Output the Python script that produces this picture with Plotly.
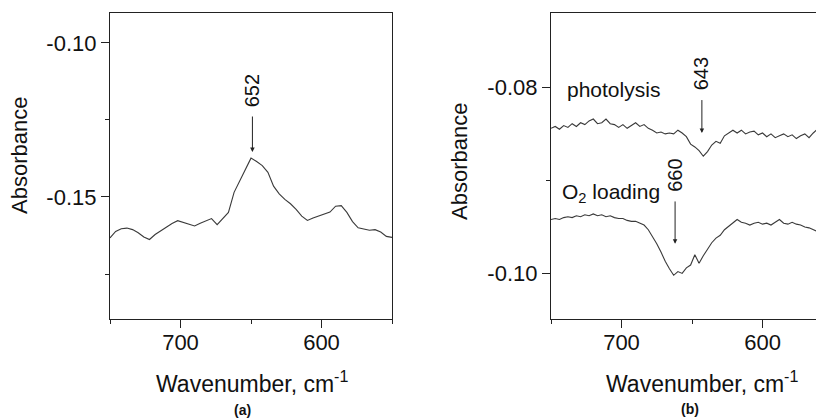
import plotly.graph_objects as go

# ---------------- data ----------------
wn_a = [750, 746, 742, 738, 734, 730, 726, 722, 718, 714, 710, 706, 702, 698, 694, 690, 686, 682, 678, 674,
        670, 666, 662, 658, 654, 650, 646, 642, 638, 634, 630, 626, 622, 618, 614, 610, 606, 602, 598, 594,
        590, 586, 582, 578, 574, 570, 566, 562, 558, 554, 550]
abs_a = [-0.1633, -0.1612, -0.1603, -0.1601, -0.1606, -0.1616, -0.1630, -0.1638, -0.1622, -0.1610,
         -0.1596, -0.1586, -0.1577, -0.1583, -0.1588, -0.1594, -0.1585, -0.1577, -0.1570, -0.1590,
         -0.1570, -0.1550, -0.1485, -0.1448, -0.1410, -0.1374, -0.1385, -0.1398, -0.1420, -0.1465,
         -0.1490, -0.1508, -0.1522, -0.1540, -0.1562, -0.1576, -0.1568, -0.1562, -0.1557, -0.1549,
         -0.1530, -0.1528, -0.1550, -0.1580, -0.1600, -0.1604, -0.1608, -0.1606, -0.1614, -0.1628, -0.1631]

wn_b = [750, 747, 744, 741, 738, 735, 732, 729, 726, 723, 720, 717, 714, 711, 708, 705, 702, 699, 696, 693,
        690, 687, 684, 681, 678, 675, 672, 669, 666, 663, 660, 657, 654, 651, 648, 645, 642, 639, 636, 633,
        630, 627, 624, 621, 618, 615, 612, 609, 606, 603, 600, 597, 594, 591, 588, 585, 582, 579, 576, 573,
        570, 567, 564, 561, 558, 555, 552]
abs_photolysis = [-0.0844, -0.0842, -0.0845, -0.0841, -0.0843, -0.0839, -0.0842, -0.0838, -0.0840, -0.0836,
                  -0.0834, -0.0839, -0.0838, -0.0834, -0.0839, -0.0840, -0.0843, -0.0840, -0.0844, -0.0841,
                  -0.0838, -0.0842, -0.0840, -0.0844, -0.0846, -0.0849, -0.0848, -0.0850, -0.0849, -0.0850,
                  -0.0846, -0.0849, -0.0853, -0.0861, -0.0864, -0.0868, -0.0874, -0.0869, -0.0862, -0.0858,
                  -0.0860, -0.0852, -0.0849, -0.0846, -0.0849, -0.0846, -0.0850, -0.0848, -0.0847, -0.0851,
                  -0.0849, -0.0853, -0.0850, -0.0854, -0.0852, -0.0850, -0.0853, -0.0851, -0.0855, -0.0852,
                  -0.0850, -0.0854, -0.0849, -0.0845, -0.0846, -0.0841, -0.0840]
abs_o2 = [-0.0942, -0.0941, -0.0942, -0.0940, -0.0939, -0.0940, -0.0938, -0.0939, -0.0937, -0.0938,
          -0.0936, -0.0938, -0.0937, -0.0939, -0.0938, -0.0940, -0.0941, -0.0941, -0.0943, -0.0944,
          -0.0944, -0.0946, -0.0948, -0.0953, -0.0960, -0.0968, -0.0977, -0.0987, -0.0995, -0.1002,
          -0.0998, -0.1000, -0.0994, -0.0991, -0.0980, -0.0989, -0.0981, -0.0974, -0.0967, -0.0962,
          -0.0959, -0.0953, -0.0949, -0.0946, -0.0942, -0.0945, -0.0946, -0.0948, -0.0946, -0.0945,
          -0.0947, -0.0946, -0.0948, -0.0945, -0.0942, -0.0946, -0.0947, -0.0945, -0.0947, -0.0948,
          -0.0950, -0.0951, -0.0953, -0.0955, -0.0953, -0.0952, -0.0951]

x_tickvals = [700, 600]
x_ticktext = ["700", "600"]
x_minor = [750, 650, 550]
ya_tickvals = [-0.15, -0.10]
ya_ticktext = ["-0.15", "-0.10"]
ya_minor = [-0.175, -0.125]
yb_tickvals = [-0.10, -0.08]
yb_ticktext = ["-0.10", "-0.08"]
yb_minor = [-0.09]

# peak labels: (text, x, y_text, y_tail, y_head)
peaks_a = [("652", 649, -0.1156, -0.1234, -0.1354)]
peaks_b = [("643", 643, -0.0785, -0.0812, -0.0849),
           ("660", 662, -0.0895, -0.0921, -0.0968)]

FONT = "Liberation Sans, Arial, sans-serif"
LINE = "#3a3a3a"

fig = go.Figure()
fig.add_trace(go.Scatter(x=wn_a, y=abs_a, mode="lines", line=dict(color=LINE, width=1.1),
                         xaxis="x", yaxis="y", showlegend=False))
fig.add_trace(go.Scatter(x=wn_b, y=abs_photolysis, mode="lines", line=dict(color=LINE, width=1.1),
                         xaxis="x2", yaxis="y2", showlegend=False))
fig.add_trace(go.Scatter(x=wn_b, y=abs_o2, mode="lines", line=dict(color=LINE, width=1.1),
                         xaxis="x2", yaxis="y2", showlegend=False))

# page has an 8px body margin, so the figure is 816x411 placed at (8, 8)
OFF = 8
W, H = 824 - OFF, 419 - OFF


def px(sx):
    return (sx - OFF) / W


def py(sy):
    return (H - (sy - OFF)) / H


ydom = [py(319), py(13)]


def xax(domain, rng, mirror=True):
    return dict(domain=domain, range=rng, showline=True, linecolor="#222", linewidth=1.2,
                mirror=mirror, ticks="outside", ticklen=8, tickwidth=1.2, tickcolor="#222",
                tickmode="array", tickvals=x_tickvals, ticktext=x_ticktext,
                minor=dict(tickmode="array", tickvals=x_minor, ticks="outside", ticklen=4,
                           tickwidth=1.2, tickcolor="#222"),
                showgrid=False, zeroline=False, ticklabelstandoff=-5,
                tickfont=dict(family=FONT, size=22, color="#111"))


def yax(anchor, rng, tv, tt, mn, mirror=True):
    return dict(domain=ydom, range=rng, anchor=anchor, showline=True, linecolor="#222", linewidth=1.2,
                mirror=mirror, ticks="outside", ticklen=8, tickwidth=1.2, tickcolor="#222",
                tickmode="array", tickvals=tv, ticktext=tt,
                minor=dict(tickmode="array", tickvals=mn, ticks="outside", ticklen=4,
                           tickwidth=1.2, tickcolor="#222"),
                showgrid=False, zeroline=False,
                tickfont=dict(family=FONT, size=22, color="#111"))


fig.update_layout(
    width=W, height=H, margin=dict(l=0, r=0, t=0, b=0),
    paper_bgcolor="white", plot_bgcolor="white",
    xaxis=dict(xax([px(110), px(392)], [750, 550]), anchor="y"),
    yaxis=yax("x", [-0.1896, -0.0903], ya_tickvals, ya_ticktext, ya_minor),
    xaxis2=dict(xax([px(551), 1.0], [750, 556.4]), anchor="y2"),
    yaxis2=yax("x2", [-0.1049, -0.0720], yb_tickvals, yb_ticktext, yb_minor, mirror=False),
)

annotations = []
for txt, xv, yt, ytail, yhead in peaks_a:
    annotations.append(dict(x=xv, y=yt, xref="x", yref="y", text=txt, textangle=-90, showarrow=False,
                            xanchor="center", yanchor="middle",
                            font=dict(family=FONT, size=20, color="#111")))
    annotations.append(dict(x=xv, y=yhead, ax=xv, ay=ytail, xref="x", yref="y", axref="x", ayref="y",
                            text="", showarrow=True, arrowhead=2, arrowsize=0.9, arrowwidth=1,
                            arrowcolor="#222"))
for txt, xv, yt, ytail, yhead in peaks_b:
    annotations.append(dict(x=xv, y=yt, xref="x2", yref="y2", text=txt, textangle=-90, showarrow=False,
                            xanchor="center", yanchor="middle",
                            font=dict(family=FONT, size=20, color="#111")))
    annotations.append(dict(x=xv, y=yhead, ax=xv, ay=ytail, xref="x2", yref="y2", axref="x2", ayref="y2",
                            text="", showarrow=True, arrowhead=2, arrowsize=0.9, arrowwidth=1,
                            arrowcolor="#222"))

annotations += [
    dict(x=740, y=-0.0802, xref="x2", yref="y2", text="photolysis", xanchor="left", yanchor="middle",
         showarrow=False, font=dict(family=FONT, size=21, color="#111")),
    dict(x=743.6, y=-0.0914, xref="x2", yref="y2", text="O<sub>2</sub> loading", xanchor="left",
         yanchor="middle", showarrow=False, font=dict(family=FONT, size=21, color="#111")),
    dict(x=px(252), y=py(382), xref="paper", yref="paper", text="Wavenumber, cm<sup>-1</sup>",
         xanchor="center", yanchor="middle", showarrow=False, font=dict(family=FONT, size=23, color="#111")),
    dict(x=px(702), y=py(382), xref="paper", yref="paper", text="Wavenumber, cm<sup>-1</sup>",
         xanchor="center", yanchor="middle", showarrow=False, font=dict(family=FONT, size=23, color="#111")),
    dict(x=px(19), y=py(156), xref="paper", yref="paper", text="Absorbance", textangle=-90,
         xanchor="center", yanchor="middle", showarrow=False, font=dict(family=FONT, size=22, color="#111")),
    dict(x=px(459), y=py(162), xref="paper", yref="paper", text="Absorbance", textangle=-90,
         xanchor="center", yanchor="middle", showarrow=False, font=dict(family=FONT, size=22, color="#111")),
    dict(x=px(243), y=py(410), xref="paper", yref="paper", text="<b>(a)</b>",
         xanchor="center", yanchor="middle", showarrow=False, font=dict(family=FONT, size=14, color="#111")),
    dict(x=px(690), y=py(409), xref="paper", yref="paper", text="<b>(b)</b>",
         xanchor="center", yanchor="middle", showarrow=False, font=dict(family=FONT, size=14, color="#111")),
]
fig.update_layout(annotations=annotations)

fig.write_html("out.html")
